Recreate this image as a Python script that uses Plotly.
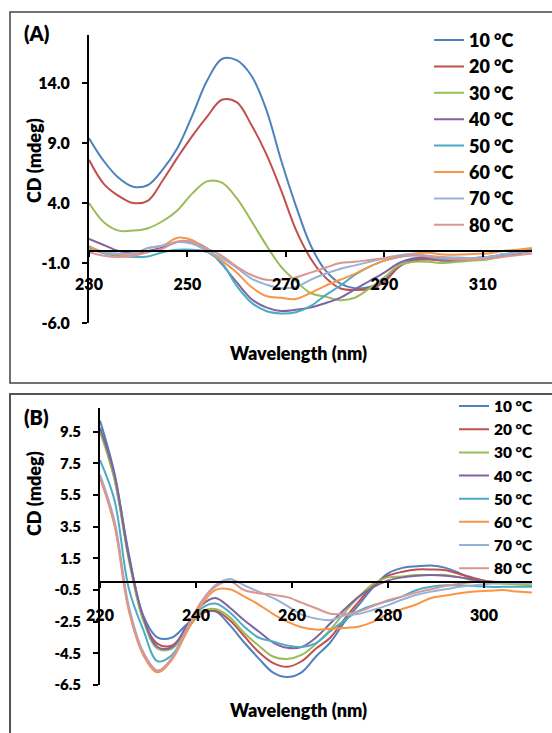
import plotly.graph_objects as go

W, H = 552, 733

# ---------------- Panel A data ----------------
wl_a = [230, 233, 236, 239, 242, 245, 248, 251, 254, 257, 260, 263, 266, 269, 272, 275,
        278, 281, 284, 287, 290, 293, 296, 299, 302, 305, 308, 311, 314, 317, 320]
a_10 = [9.4, 7.5, 6.1, 5.35, 5.5, 6.8, 8.6, 11.3, 14.2, 16.0, 15.9, 14.6, 11.8, 7.6, 3.8, 0.5,
        -1.6, -2.7, -3.1, -3.0, -2.4, -1.3, -0.7, -0.6, -0.8, -0.8, -0.7, -0.6, -0.4, -0.2, 0.1]
a_20 = [7.6, 5.6, 4.6, 4.0, 4.2, 5.9, 7.8, 9.6, 11.2, 12.6, 12.4, 10.5, 8.1, 5.1, 1.8, -0.6,
        -2.2, -3.1, -3.25, -3.15, -2.6, -1.3, -0.8, -0.7, -0.8, -0.8, -0.7, -0.6, -0.4, -0.2, 0.0]
a_30 = [4.0, 2.4, 1.7, 1.7, 1.9, 2.5, 3.4, 4.8, 5.8, 5.7, 4.4, 2.5, 0.5, -1.3, -2.5, -3.5,
        -3.8, -4.1, -3.9, -3.1, -2.2, -1.2, -0.9, -0.9, -1.0, -0.9, -0.8, -0.7, -0.4, -0.1, 0.1]
a_40 = [1.0, 0.5, 0.0, -0.2, 0.0, 0.3, 0.75, 0.75, 0.2, -1.1, -2.6, -4.0, -4.7, -5.0, -4.9, -4.7,
        -4.35, -3.9, -3.2, -2.5, -1.8, -1.0, -0.6, -0.6, -0.7, -0.7, -0.6, -0.5, -0.3, -0.1, 0.1]
a_50 = [0.3, -0.2, -0.4, -0.5, -0.45, -0.1, 0.1, 0.1, -0.1, -1.0, -2.9, -4.3, -5.0, -5.2, -5.1, -4.6,
        -3.7, -2.9, -2.0, -1.3, -0.8, -0.5, -0.35, -0.5, -0.7, -0.7, -0.6, -0.5, -0.3, -0.1, 0.15]
a_60 = [0.4, -0.1, -0.3, -0.3, 0.25, 0.45, 1.1, 0.9, 0.0, -0.8, -1.8, -3.0, -3.75, -3.9, -4.0, -3.5,
        -2.9, -2.4, -1.9, -1.3, -0.8, -0.45, -0.2, -0.15, -0.3, -0.3, -0.25, -0.2, 0.0, 0.1, 0.25]
a_70 = [0.1, -0.1, -0.2, -0.2, 0.25, 0.45, 0.75, 0.6, 0.0, -0.6, -1.4, -2.3, -2.8, -3.1, -3.0, -2.4,
        -1.9, -1.5, -1.2, -0.9, -0.6, -0.35, -0.25, -0.4, -0.5, -0.55, -0.6, -0.5, -0.3, -0.15, 0.0]
a_80 = [-0.1, -0.4, -0.5, -0.4, -0.1, 0.2, 0.8, 0.75, 0.2, -0.4, -1.3, -2.0, -2.4, -2.4, -2.2, -1.8,
        -1.4, -1.0, -0.9, -0.75, -0.6, -0.45, -0.35, -0.45, -0.6, -0.7, -0.7, -0.65, -0.5, -0.35, -0.2]

# ---------------- Panel B data ----------------
wl_b = [220, 223, 226, 229, 232, 235, 238, 241, 244, 247, 250, 253, 256, 259, 262, 265,
        268, 271, 274, 277, 280, 283, 286, 289, 292, 295, 298, 301, 304, 307, 310]
b_10 = [10.2, 6.9, 1.8, -2.1, -3.5, -3.5, -2.7, -2.0, -1.85, -2.7, -3.8, -4.8, -5.7, -6.0, -5.7, -4.7,
        -3.8, -2.5, -1.4, -0.3, 0.55, 0.9, 1.0, 1.05, 0.9, 0.55, 0.15, 0.0, 0.0, 0.0, 0.0]
b_20 = [9.7, 6.6, 1.6, -2.3, -3.9, -4.0, -3.0, -2.0, -1.8, -2.4, -3.4, -4.4, -5.1, -5.35, -5.0, -4.2,
        -3.5, -2.3, -1.2, -0.2, 0.4, 0.65, 0.8, 0.8, 0.75, 0.5, 0.25, 0.05, 0.0, 0.0, 0.0]
b_30 = [9.5, 6.5, 1.4, -2.4, -4.2, -4.2, -3.1, -1.9, -1.7, -2.2, -3.2, -4.0, -4.7, -4.85, -4.6, -3.9,
        -3.0, -1.9, -0.9, -0.1, 0.3, 0.35, 0.45, 0.45, 0.45, 0.3, 0.1, -0.05, -0.1, -0.15, -0.2]
b_40 = [9.75, 6.8, 1.6, -2.2, -4.1, -4.1, -2.8, -1.5, -1.0, -1.6, -2.4, -3.1, -3.8, -4.15, -4.1, -3.5,
        -2.6, -1.7, -0.9, -0.3, 0.1, 0.3, 0.4, 0.45, 0.4, 0.3, 0.15, 0.0, 0.0, 0.0, 0.0]
b_50 = [7.7, 5.2, -0.4, -3.0, -5.0, -4.6, -3.1, -1.7, -1.35, -1.9, -2.8, -3.5, -3.75, -4.0, -4.1, -3.85,
        -3.1, -2.4, -1.8, -1.45, -1.2, -0.9, -0.5, -0.3, -0.2, -0.2, -0.25, -0.3, -0.3, -0.3, -0.3]
b_60 = [6.6, 3.6, -1.8, -4.6, -5.7, -4.9, -3.2, -1.5, -0.5, -0.45, -0.9, -1.4, -2.0, -2.5, -2.85, -3.0,
        -2.95, -2.9, -2.8, -2.5, -2.0, -1.7, -1.4, -1.0, -0.85, -0.7, -0.6, -0.55, -0.5, -0.6, -0.65]
b_70 = [6.8, 3.9, -1.5, -4.4, -5.6, -4.8, -3.0, -1.3, -0.2, 0.2, -0.2, -0.6, -1.0, -1.5, -2.05, -2.3,
        -2.4, -2.1, -2.0, -1.75, -1.45, -1.1, -0.8, -0.6, -0.45, -0.3, -0.2, -0.1, -0.05, -0.05, -0.05]
b_80 = [6.6, 3.7, -1.7, -4.5, -5.6, -4.8, -3.0, -1.3, -0.3, 0.05, -0.5, -0.7, -0.8, -0.95, -1.3, -1.65,
        -2.0, -2.0, -1.85, -1.5, -1.15, -0.9, -0.65, -0.45, -0.25, -0.1, 0.0, 0.0, 0.0, 0.0, 0.0]

series_names = ["10 °C", "20 °C", "30 °C", "40 °C", "50 °C", "60 °C", "70 °C", "80 °C"]
colors = ["#4F81BD", "#C0504D", "#9BBB59", "#8064A2", "#4BACC6", "#F79646", "#95B3D7", "#D99694"]

xa_ticks = [230, 250, 270, 290, 310]
ya_ticks = [-6, -1, 4, 9, 14]
ya_labels = ["-6.0", "-1.0", "4.0", "9.0", "14.0"]
xb_ticks = [220, 240, 260, 280, 300]
yb_ticks = [-6.5, -4.5, -2.5, -0.5, 1.5, 3.5, 5.5, 7.5, 9.5]
yb_labels = ["-6.5", "-4.5", "-2.5", "-0.5", "1.5", "3.5", "5.5", "7.5", "9.5"]

ya_range = [-6, 18]
yb_range = [-6.5, 11]

FONT = "Lato"
WT = 800


def px_x(p):
    return p / W


def px_y(p):
    return 1 - p / H


xa_dom = [px_x(89), px_x(532)]
ya_dom = [px_y(323), px_y(35)]
xb_dom = [px_x(100), px_x(532)]
yb_dom = [px_y(685), px_y(408)]


def zero_pos(dom, rng):
    return dom[0] + (0 - rng[0]) / (rng[1] - rng[0]) * (dom[1] - dom[0])


fig = go.Figure()
for name, col, vals in zip(series_names, colors, [a_10, a_20, a_30, a_40, a_50, a_60, a_70, a_80]):
    fig.add_trace(go.Scatter(x=wl_a, y=vals, mode="lines", name=name,
                             line=dict(color=col, width=2, shape="spline", smoothing=1.0),
                             xaxis="x", yaxis="y", legend="legend"))
for name, col, vals in zip(series_names, colors, [b_10, b_20, b_30, b_40, b_50, b_60, b_70, b_80]):
    fig.add_trace(go.Scatter(x=wl_b, y=vals, mode="lines", name=name,
                             line=dict(color=col, width=2, shape="spline", smoothing=1.0),
                             xaxis="x2", yaxis="y2", legend="legend2"))

tickfont = dict(family=FONT, size=16, color="black", weight=WT)
tickfont_b = dict(family=FONT, size=15, color="black", weight=WT)

common_x = dict(showgrid=False, zeroline=False, showline=True, linecolor="black", linewidth=2,
                ticks="outside", ticklen=5, tickwidth=1.5, tickcolor="black", anchor="free",
                side="bottom", ticklabelstandoff=14, automargin=False)
common_y = dict(showgrid=False, zeroline=False, showline=True, linecolor="black", linewidth=2,
                ticks="outside", ticklen=5, tickwidth=1.5, tickcolor="black", ticklabelstandoff=9,
                automargin=False)

fig.update_layout(
    width=W, height=H, margin=dict(l=0, r=0, t=0, b=0, pad=0, autoexpand=False),
    paper_bgcolor="white", plot_bgcolor="white",
    xaxis=dict(domain=xa_dom, range=[230, 320], tickvals=xa_ticks, tickfont=tickfont,
               position=zero_pos(ya_dom, ya_range), **common_x),
    yaxis=dict(domain=ya_dom, range=ya_range, tickvals=ya_ticks, ticktext=ya_labels,
               tickfont=tickfont, anchor="x", **common_y),
    xaxis2=dict(domain=xb_dom, range=[220, 310], tickvals=xb_ticks, tickfont=tickfont,
                position=zero_pos(yb_dom, yb_range), **common_x),
    yaxis2=dict(domain=yb_dom, range=yb_range, tickvals=yb_ticks, ticktext=yb_labels,
                tickfont=tickfont_b, anchor="x2", **common_y),
    legend=dict(x=px_x(429), y=px_y(21.8), xanchor="left", yanchor="top",
                bgcolor="rgba(0,0,0,0)", borderwidth=0,
                font=dict(family=FONT, size=18, color="black", weight=WT)),
    legend2=dict(x=px_x(454), y=px_y(389.5), xanchor="left", yanchor="top",
                 bgcolor="rgba(0,0,0,0)", borderwidth=0,
                 font=dict(family=FONT, size=15.5, color="black", weight=WT)),
    showlegend=True,
)

# panel frames
fig.add_shape(type="rect", xref="paper", yref="paper", x0=px_x(10), x1=1.05, y0=px_y(383), y1=px_y(12),
              line=dict(color="#444444", width=1.5), fillcolor="rgba(0,0,0,0)", layer="below")
fig.add_shape(type="rect", xref="paper", yref="paper", x0=px_x(10), x1=1.05, y0=-0.05, y1=px_y(394),
              line=dict(color="#555555", width=2), fillcolor="rgba(0,0,0,0)", layer="below")

ann_font = dict(family=FONT, size=18, color="black", weight=WT)
annots = [
    dict(text="(A)", x=px_x(22), y=px_y(33), xanchor="left", yanchor="middle",
         font=dict(family=FONT, size=20, color="black", weight=WT)),
    dict(text="(B)", x=px_x(22), y=px_y(417), xanchor="left", yanchor="middle",
         font=dict(family=FONT, size=20, color="black", weight=WT)),
    dict(text="Wavelength (nm)", x=px_x(298), y=px_y(353), xanchor="center", yanchor="middle", font=ann_font),
    dict(text="Wavelength (nm)", x=px_x(298), y=px_y(710), xanchor="center", yanchor="middle", font=ann_font),
    dict(text="CD (mdeg)", x=px_x(34), y=px_y(161), xanchor="center", yanchor="middle", textangle=-90, font=ann_font),
    dict(text="CD (mdeg)", x=px_x(34), y=px_y(494), xanchor="center", yanchor="middle", textangle=-90, font=ann_font),
]
for a in annots:
    fig.add_annotation(xref="paper", yref="paper", showarrow=False, **a)

fig.write_html("out.html")
